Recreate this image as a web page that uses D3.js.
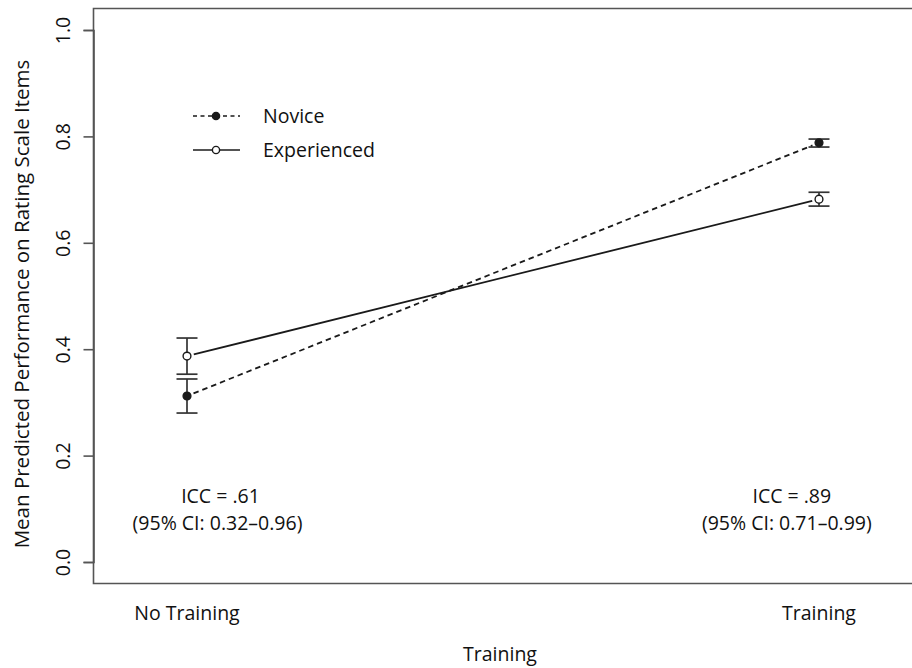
<!DOCTYPE html>
<html><head><meta charset="utf-8">
<script src="https://cdn.jsdelivr.net/npm/d3@7"></script>
<style>
body{margin:0;background:#fff;}
text{font-family:"Open Sans",sans-serif;fill:#111;}
</style></head>
<body><svg id="chart" width="912" height="668"></svg>
<script>
const conditions = ["No Training", "Training"];
const conditionPos = [1, 2];
const groups = ["Novice", "Experienced"];
const noviceMean = [0.312, 0.788];
const noviceLo = [0.280, 0.780];
const noviceHi = [0.344, 0.795];
const expMean = [0.387, 0.682];
const expLo = [0.353, 0.669];
const expHi = [0.421, 0.695];
const yTicks = [0.0, 0.2, 0.4, 0.6, 0.8, 1.0];
const iccX = [1.053, 1.957];
const iccLabels = ["ICC = .61", "ICC = .89"];
const ciLabels = ["(95% CI: 0.32\u20130.96)", "(95% CI: 0.71\u20130.99)"];
const xTitle = "Training";
const yTitle = "Mean Predicted Performance on Rating Scale Items";

const svg = d3.select("#chart");
const FS = 19.5;
const ink = "#1a1a1a";
const x = d3.scaleLinear().domain([1, 2]).range([187, 819]);
const y = d3.scaleLinear().domain([0, 1]).range([562, 30]);

// box
svg.append("path")
  .attr("d", "M915,8.5H93.5V583.5H915")
  .attr("fill", "none").attr("stroke", "#555").attr("stroke-width", 1.6);

// y axis
const yAxis = d3.axisLeft(y).tickValues(yTicks).tickFormat(d3.format(".1f")).tickSize(10).tickPadding(0);
const ga = svg.append("g").attr("transform", "translate(93.5,0)").call(yAxis);
ga.select(".domain").attr("stroke", "#555").attr("stroke-width", 1.6);
ga.selectAll(".tick line").attr("stroke", "#555").attr("stroke-width", 1.6);
ga.selectAll(".tick text")
  .attr("font-size", FS).attr("font-family", "Open Sans").attr("fill", "#111")
  .attr("text-anchor", "middle").attr("dy", null)
  .attr("transform", "translate(-24,0) rotate(-90)")
  .attr("x", 0).attr("y", 0);

// x category labels
svg.selectAll(".xcat").data(conditions).join("text")
  .attr("class", "xcat")
  .attr("x", (d, i) => x(conditionPos[i])).attr("y", 620)
  .attr("text-anchor", "middle").attr("font-size", FS).text(d => d);

svg.append("text").attr("x", 500).attr("y", 661).attr("text-anchor", "middle")
  .attr("font-size", FS).text(xTitle);
svg.append("text").attr("transform", `translate(29,${(y(0)+y(1))/2 + 8}) rotate(-90)`)
  .attr("text-anchor", "middle").attr("font-size", 20.5).text(yTitle);

// series
const series = [
  {name: groups[0], mean: noviceMean, lo: noviceLo, hi: noviceHi, dash: "5.5,4", fill: ink},
  {name: groups[1], mean: expMean, lo: expLo, hi: expHi, dash: null, fill: "#fff"}
];
const gap = 7;
series.forEach(s => {
  const x1 = x(conditionPos[0]), y1 = y(s.mean[0]);
  const x2 = x(conditionPos[1]), y2 = y(s.mean[1]);
  const L = Math.hypot(x2 - x1, y2 - y1);
  const ux = (x2 - x1) / L, uy = (y2 - y1) / L;
  svg.append("line")
    .attr("x1", x1 + ux * gap).attr("y1", y1 + uy * gap)
    .attr("x2", x2 - ux * gap).attr("y2", y2 - uy * gap)
    .attr("stroke", ink).attr("stroke-width", 1.8)
    .attr("stroke-dasharray", s.dash);
  conditionPos.forEach((c, i) => {
    const g = svg.append("g").attr("stroke", "#333").attr("stroke-width", 1.7);
    g.append("line").attr("x1", x(c)).attr("x2", x(c)).attr("y1", y(s.lo[i])).attr("y2", y(s.hi[i]));
    [s.lo[i], s.hi[i]].forEach(v => {
      g.append("line").attr("x1", x(c) - 10.5).attr("x2", x(c) + 10.5).attr("y1", y(v)).attr("y2", y(v));
    });
    svg.append("circle").attr("cx", x(c)).attr("cy", y(s.mean[i])).attr("r", 3.9)
      .attr("fill", s.fill).attr("stroke", ink).attr("stroke-width", 1.4);
  });
});

// ICC annotations
svg.selectAll(".icc").data(iccLabels).join("text")
  .attr("class", "icc").attr("x", (d, i) => x(iccX[i])).attr("y", 503)
  .attr("text-anchor", "middle").attr("font-size", FS).text(d => d);
svg.selectAll(".ci").data(ciLabels).join("text")
  .attr("class", "ci").attr("x", (d, i) => x(iccX[i]) - (i === 0 ? 3 : 5)).attr("y", 530)
  .attr("text-anchor", "middle").attr("font-size", FS).text(d => d);

// legend
const leg = svg.append("g").attr("transform", "translate(193,116)");
series.forEach((s, i) => {
  const gy = i * 34;
  leg.append("line").attr("x1", 0).attr("x2", 47).attr("y1", gy).attr("y2", gy)
    .attr("stroke", ink).attr("stroke-width", 1.5).attr("stroke-dasharray", s.dash ? "4,3.5" : null);
  leg.append("circle").attr("cx", 23).attr("cy", gy).attr("r", 3.6)
    .attr("fill", s.fill).attr("stroke", ink).attr("stroke-width", 1.4);
  leg.append("text").attr("x", 70).attr("y", gy).attr("dy", "0.35em")
    .attr("font-size", FS).text(s.name);
});
</script></body></html>
